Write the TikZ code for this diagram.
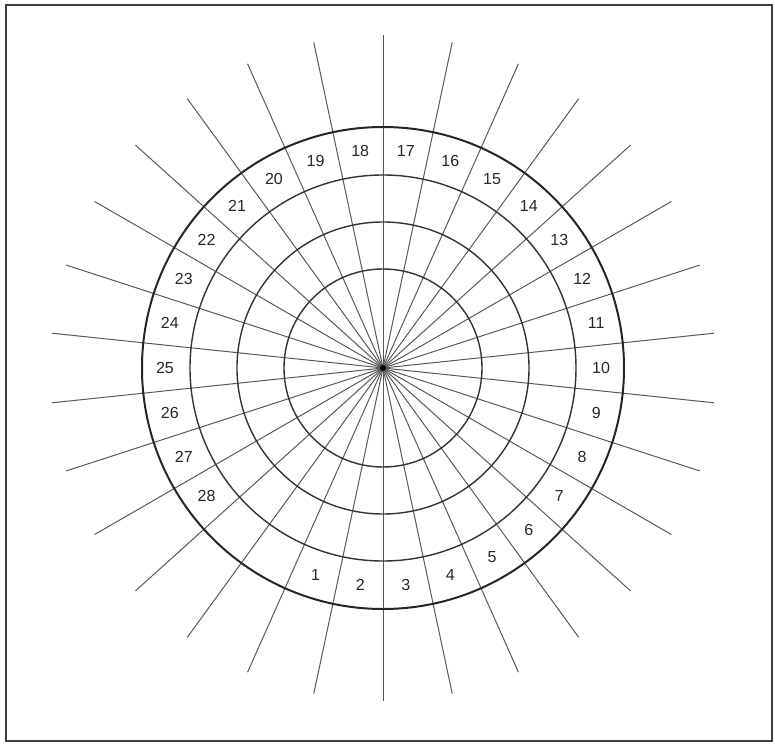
\documentclass[tikz,border=0pt]{standalone}
\usepackage{fontspec}
\setmainfont{Liberation Sans}
\begin{document}
\begin{tikzpicture}[x=1pt,y=1pt]
        \useasboundingbox (-383,-376) rectangle (392,368);
        \draw[black!75, line width=2pt] (-377,-373) rectangle (389,363);
        \coordinate (c) at (0,0);
        % rays
        \foreach \a in {0,12,...,348}
        \draw[black!65, line width=1pt] (c) -- (90+\a:333);
        \fill[black] (c) circle (3);
        % rings
        \foreach \r in {99,146,193}
        \draw[black!80, line width=1.4pt] (c) circle (\r);
        \draw[black!85, line width=2pt] (c) circle (241);
        % numbers
        \foreach \n in {1,...,28}
        \node[text=black!85, font=\fontsize{16}{18}\selectfont] (n\n) at (12*\n-120:218) {\n};
    \end{tikzpicture}
\end{document}
